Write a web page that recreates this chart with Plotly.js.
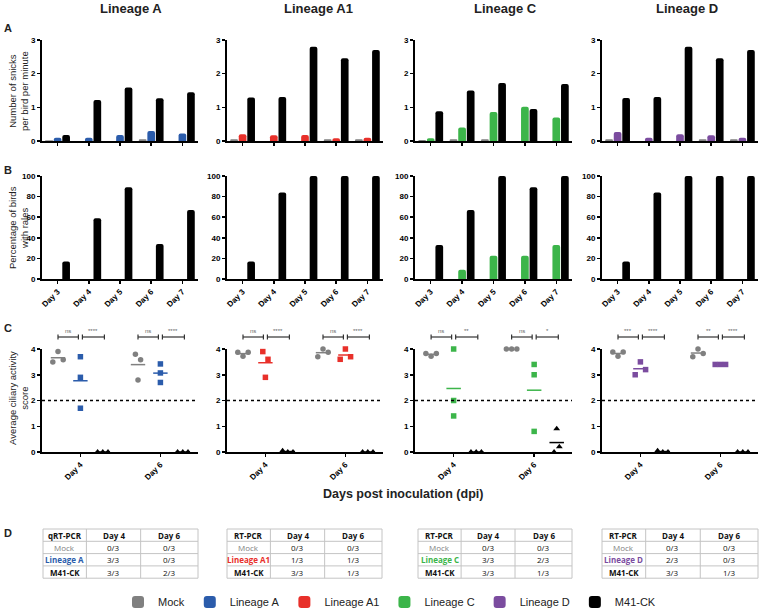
<!DOCTYPE html>
<html>
<head>
<meta charset="utf-8">
<script src="https://cdn.plot.ly/plotly-3.0.1.min.js"></script>
<style>html,body{margin:0;padding:0;background:#fff;}#chart{width:760px;height:609px;}</style>
</head>
<body>
<div id="chart"></div>
<script>
// ---------------- DATA ----------------
const days = ['Day 3', 'Day 4', 'Day 5', 'Day 6', 'Day 7'];
const ciliaryDays = ['Day 4', 'Day 6'];
const lineages = ['Lineage A', 'Lineage A1', 'Lineage C', 'Lineage D'];
const mockName = 'Mock';
const m41Name = 'M41-CK';

// A: number of snicks per bird per minute  [lineage panel][day]
const snicksMock = [
  [0.02, 0, 0, 0.05, 0],
  [0.05, 0, 0, 0.05, 0.05],
  [0.03, 0.05, 0.05, 0, 0],
  [0.05, 0, 0, 0.05, 0.05]
];
const snicksLineage = [
  [0.10, 0.10, 0.18, 0.30, 0.22],
  [0.20, 0.17, 0.18, 0.08, 0.10],
  [0.08, 0.40, 0.86, 1.02, 0.70],
  [0.27, 0.10, 0.20, 0.17, 0.10]
];
const snicksM41 = [
  [0.18, 1.22, 1.59, 1.27, 1.45],
  [1.29, 1.31, 2.80, 2.46, 2.70],
  [0.88, 1.50, 1.72, 0.95, 1.69],
  [1.28, 1.31, 2.80, 2.46, 2.70]
];

// B: percentage of birds with rales
const ralesMock = [
  [0, 0, 0, 0, 0],
  [0, 0, 0, 0, 0],
  [0, 0, 0, 0, 0],
  [0, 0, 0, 0, 0]
];
const ralesLineage = [
  [0, 0, 0, 0, 0],
  [0, 0, 0, 0, 0],
  [0, 9, 22.5, 22.5, 33],
  [0, 0, 0, 0, 0]
];
const ralesM41 = [
  [17, 59, 89, 34, 67],
  [17, 84, 100, 100, 100],
  [33, 67, 100, 89, 100],
  [17, 84, 100, 100, 100]
];

// C: average ciliary activity score [panel][day][bird]
const ciliaryMock = [
  [[3.5, 3.9, 3.58], [3.8, 3.58, 2.8]],
  [[3.87, 3.72, 3.87], [3.7, 4.0, 3.87]],
  [[3.83, 3.72, 3.83], [4.0, 4.0, 4.0]],
  [[3.88, 3.72, 3.88], [3.7, 4.0, 3.83]]
];
const ciliaryLineage = [
  [[3.7, 2.9, 1.7], [3.42, 3.07, 2.7]],
  [[3.9, 3.6, 2.9], [3.6, 4.0, 3.7]],
  [[4.0, 2.0, 1.4], [3.4, 3.0, 0.8]],
  [[3.0, 3.5, 3.2], [3.4, 3.4, 3.4]]
];
const ciliaryM41 = [
  [[0, 0, 0], [0, 0, 0]],
  [[0.05, 0, 0], [0, 0, 0]],
  [[0, 0, 0], [0, 0.9, 0.2]],
  [[0.05, 0, 0], [0, 0, 0]]
];
const sigMockVsLineage = [['ns', 'ns'], ['ns', 'ns'], ['ns', 'ns'], ['***', '**']];
const sigLineageVsM41 = [['****', '****'], ['****', '****'], ['**', '*'], ['****', '****']];
const ciliaryCutoff = 2;

// D: PCR tables
const tableMethod = ['qRT-PCR', 'RT-PCR', 'RT-PCR', 'RT-PCR'];
const tableCols = ['Day 4', 'Day 6'];
const tableDay4 = [['0/3', '3/3', '3/3'], ['0/3', '1/3', '3/3'], ['0/3', '3/3', '3/3'], ['0/3', '2/3', '3/3']];
const tableDay6 = [['0/3', '0/3', '2/3'], ['0/3', '1/3', '1/3'], ['0/3', '2/3', '1/3'], ['0/3', '0/3', '1/3']];

// ---------------- STYLE / LAYOUT ----------------
const mockColor = '#808080';
const m41Color = '#000000';
const lineageColors = ['#2b5cab', '#e8302a', '#3cb54a', '#7b4c9f'];
const FONT = 'Liberation Sans, Arial, sans-serif';
const TFONT = 'Open Sans, Liberation Sans, sans-serif';
const W = 760, H = 609;
const px = p => p / W;
const py = p => 1 - p / H;
const colPx = [[42, 198], [227, 383], [415, 572], [602, 758]];
const rowPx = [[40, 141], [176, 279], [349, 452]];
const groupOff = 0.28;
const swarmStep = 0.065;
const meanHalf = 0.09;
const cRange = [-0.48, 1.47];

function swarm(vals, thr) {
  const idx = vals.map((v, i) => i).sort((a, b) => vals[a] - vals[b]);
  const off = new Array(vals.length).fill(0);
  let cluster = [idx[0]];
  const flush = () => {
    const members = cluster.slice().sort((a, b) => a - b);
    const n = members.length;
    members.forEach((m, k) => { off[m] = k - (n - 1) / 2; });
  };
  for (let k = 1; k < idx.length; k++) {
    if (vals[idx[k]] - vals[idx[k - 1]] < thr) cluster.push(idx[k]);
    else { flush(); cluster = [idx[k]]; }
  }
  flush();
  return off;
}

const traces = [];
const layout = {
  width: W, height: H,
  margin: {l: 0, r: 0, t: 0, b: 0, autoexpand: false},
  paper_bgcolor: '#fff', plot_bgcolor: '#fff',
  font: {family: FONT, color: '#222'},
  barmode: 'group', bargap: 0.18, bargroupgap: 0.1, barcornerradius: 2,
  showlegend: true,
  legend: {orientation: 'h', x: px(118), xanchor: 'left', y: py(602), yanchor: 'middle',
           font: {size: 11, color: '#222', family: FONT}, bgcolor: 'rgba(0,0,0,0)', traceorder: 'normal'},
  annotations: [], shapes: []
};

const axisBase = () => ({
  showline: true, linecolor: '#000', linewidth: 2, mirror: false,
  ticks: 'outside', ticklen: 3, tickwidth: 1.5, tickcolor: '#000',
  showgrid: false, zeroline: false, fixedrange: true, automargin: false,
  tickfont: {size: 8, weight: 'bold', color: '#000', family: FONT}
});

for (let r = 0; r < 3; r++) {
  for (let c = 0; c < 4; c++) {
    const n = r * 4 + c + 1;
    const xk = 'xaxis' + (n === 1 ? '' : n), yk = 'yaxis' + (n === 1 ? '' : n);
    const xa = axisBase(), ya = axisBase();
    xa.domain = [px(colPx[c][0]), px(colPx[c][1])];
    xa.anchor = 'y' + (n === 1 ? '' : n);
    ya.domain = [py(rowPx[r][1]), py(rowPx[r][0])];
    ya.anchor = 'x' + (n === 1 ? '' : n);
    if (r < 2) {
      xa.type = 'category'; xa.categoryarray = days; xa.categoryorder = 'array';
      xa.range = [-0.5, 4.5];
      if (r === 0) xa.showticklabels = false; else xa.tickangle = -45;
    } else {
      xa.range = cRange; xa.tickvals = [0, 1]; xa.ticktext = ciliaryDays; xa.tickangle = -45;
    }
    if (r === 0) { ya.range = [0, 3]; ya.dtick = 1; ya.tick0 = 0; }
    else if (r === 1) { ya.range = [0, 100]; ya.dtick = 20; ya.tick0 = 0; }
    else { ya.range = [0, 4]; ya.dtick = 1; ya.tick0 = 0; }
    layout[xk] = xa; layout[yk] = ya;
  }
}

// Rows A and B: bars
for (let r = 0; r < 2; r++) {
  for (let c = 0; c < 4; c++) {
    const n = r * 4 + c + 1;
    const xr = 'x' + (n === 1 ? '' : n), yr = 'y' + (n === 1 ? '' : n);
    const sets = r === 0 ? [snicksMock, snicksLineage, snicksM41] : [ralesMock, ralesLineage, ralesM41];
    const names = [mockName, lineages[c], m41Name];
    const cols = [mockColor, lineageColors[c], m41Color];
    const ranks = [1, 2 + c, 10];
    for (let g = 0; g < 3; g++) {
      traces.push({
        type: 'bar', x: days, y: sets[g][c], xaxis: xr, yaxis: yr,
        name: names[g], legendgroup: names[g], legendrank: ranks[g],
        showlegend: r === 0 && (g === 1 || c === 0),
        marker: {color: cols[g], line: {width: 0}},
        hoverinfo: 'skip', cliponaxis: true
      });
    }
  }
}

// Row C: ciliary scatter
for (let c = 0; c < 4; c++) {
  const n = 8 + c + 1;
  const xr = 'x' + n, yr = 'y' + n;
  const sets = [ciliaryMock, ciliaryLineage, ciliaryM41];
  const cols = [mockColor, lineageColors[c], m41Color];
  const symbols = ['circle', 'square', 'triangle-up'];
  for (let d = 0; d < 2; d++) {
    for (let g = 0; g < 3; g++) {
      const vals = sets[g][c][d];
      const offs = swarm(vals, 0.34);
      const center = d + (g - 1) * groupOff;
      traces.push({
        type: 'scatter', mode: 'markers', xaxis: xr, yaxis: yr, showlegend: false, hoverinfo: 'skip',
        x: vals.map((v, i) => center + offs[i] * swarmStep), y: vals,
        marker: {symbol: symbols[g], color: cols[g], size: g === 2 ? 6 : 5.5, line: {width: 0}},
        cliponaxis: false
      });
      const mean = vals.reduce((a, b) => a + b, 0) / vals.length;
      traces.push({
        type: 'scatter', mode: 'lines', xaxis: xr, yaxis: yr, showlegend: false, hoverinfo: 'skip',
        x: [center - meanHalf, center + meanHalf], y: [mean, mean],
        line: {color: cols[g], width: 1.5}, cliponaxis: false
      });
    }
    // significance brackets
    const yb = py(337), tk = 2.5 / H;
    const pairs = [[d - groupOff, d - 0.025, sigMockVsLineage[c][d]], [d + 0.025, d + groupOff + 0.02, sigLineageVsM41[c][d]]];
    pairs.forEach(([a, b, label]) => {
      layout.shapes.push({type: 'line', xref: xr, yref: 'paper', x0: a, x1: b, y0: yb, y1: yb, line: {color: '#333', width: 1.2}});
      layout.shapes.push({type: 'line', xref: xr, yref: 'paper', x0: a, x1: a, y0: yb - tk, y1: yb + tk, line: {color: '#333', width: 1.2}});
      layout.shapes.push({type: 'line', xref: xr, yref: 'paper', x0: b, x1: b, y0: yb - tk, y1: yb + tk, line: {color: '#333', width: 1.2}});
      layout.annotations.push({xref: xr, yref: 'paper', x: (a + b) / 2, y: py(331), text: label, showarrow: false,
        font: {size: 6, color: '#666', family: FONT}, xanchor: 'center', yanchor: 'middle'});
    });
  }
  layout.shapes.push({type: 'line', xref: xr + ' domain', yref: yr, x0: 0, x1: 1, y0: ciliaryCutoff, y1: ciliaryCutoff,
    line: {color: '#000', width: 1.4, dash: 'dot'}});
}

// Tables (panel D) drawn as a grid with text cells
const tablePx = [[43, 198], [227, 382], [418, 572], [602, 758]];
const tableColFrac = [0.28, 0.35, 0.37];
const tableTop = 529, tableRowH = 12.3;
const gridLine = {color: '#c4c4c4', width: 1};
for (let c = 0; c < 4; c++) {
  const [x0, x1] = tablePx[c];
  const w = x1 - x0;
  const xe = [x0, x0 + w * tableColFrac[0], x0 + w * (tableColFrac[0] + tableColFrac[1]), x1];
  const rows = [
    [tableMethod[c], tableCols[0], tableCols[1]],
    [mockName, tableDay4[c][0], tableDay6[c][0]],
    [lineages[c], tableDay4[c][1], tableDay6[c][1]],
    [m41Name, tableDay4[c][2], tableDay6[c][2]]
  ];
  const ye = rows.map((r, i) => tableTop + i * tableRowH).concat([tableTop + rows.length * tableRowH]);
  ye.forEach(y => layout.shapes.push({type: 'line', xref: 'paper', yref: 'paper', x0: px(x0), x1: px(x1), y0: py(y), y1: py(y), line: gridLine}));
  xe.forEach(x => layout.shapes.push({type: 'line', xref: 'paper', yref: 'paper', x0: px(x), x1: px(x), y0: py(ye[0]), y1: py(ye[ye.length - 1]), line: gridLine}));
  rows.forEach((row, ri) => row.forEach((txt, ci) => {
    let color = '#111', bold = ri === 0;
    if (ci === 0 && ri === 1) color = mockColor;
    if (ci === 0 && ri === 2) { color = lineageColors[c]; bold = true; }
    if (ci === 0 && ri === 3) bold = true;
    layout.annotations.push({xref: 'paper', yref: 'paper', x: px((xe[ci] + xe[ci + 1]) / 2), y: py((ye[ri] + ye[ri + 1]) / 2),
      text: bold ? '<b>' + txt + '</b>' : txt, showarrow: false, xanchor: 'center', yanchor: 'middle',
      font: {size: 8, color: color, family: TFONT}});
  }));
}

// Text annotations
const titleX = [131, 318, 505, 687];
lineages.forEach((t, c) => layout.annotations.push({xref: 'paper', yref: 'paper', x: px(titleX[c]), y: py(9),
  text: '<b>' + t + '</b>', showarrow: false, font: {size: 13, color: '#222'}, xanchor: 'center', yanchor: 'middle'}));
[['A', 28], ['B', 170], ['C', 328], ['D', 533]].forEach(([t, y]) => layout.annotations.push({xref: 'paper', yref: 'paper',
  x: px(2), y: py(y), text: '<b>' + t + '</b>', showarrow: false, font: {size: 11, color: '#222'}, xanchor: 'left', yanchor: 'middle'}));
[['Number of snicks<br>per bird per minute', 91], ['Percentage of birds<br>with rales', 228], ['Average ciliary activity<br>score', 398]]
  .forEach(([t, y]) => layout.annotations.push({xref: 'paper', yref: 'paper', x: px(18), y: py(y), text: t, textangle: -90,
    showarrow: false, font: {size: 9.5, color: '#222'}, xanchor: 'center', yanchor: 'middle'}));
layout.annotations.push({xref: 'paper', yref: 'paper', x: px(403), y: py(494), text: '<b>Days post inoculation (dpi)</b>',
  showarrow: false, font: {size: 12.5, color: '#222'}, xanchor: 'center', yanchor: 'middle'});

Plotly.newPlot('chart', traces, layout, {staticPlot: true, displayModeBar: false});
</script>
</body>
</html>
